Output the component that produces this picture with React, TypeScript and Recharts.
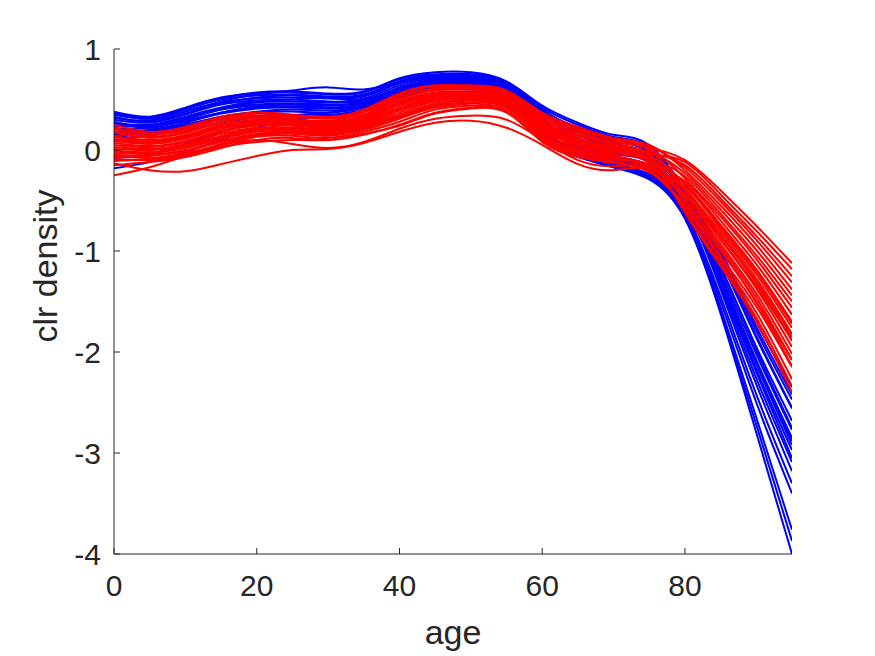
import React from 'react';
import { LineChart, Line, XAxis, YAxis } from 'recharts';

// ages at which the curves were read
const ages = [0, 5, 10, 15, 20, 25, 30, 35, 40, 45, 50, 55, 60, 65, 70, 75, 80, 85, 90, 95];

// blue curves
const blue01 = [0.38, 0.33, 0.42, 0.52, 0.56, 0.57, 0.55, 0.57, 0.70, 0.75, 0.75, 0.67, 0.42, 0.25, 0.13, 0.03, -0.40, -1.00, -1.70, -2.35];
const blue02 = [0.35, 0.31, 0.40, 0.50, 0.54, 0.55, 0.53, 0.55, 0.68, 0.74, 0.74, 0.66, 0.39, 0.22, 0.10, 0.00, -0.50, -1.38, -2.32, -3.18];
const blue03 = [0.32, 0.29, 0.38, 0.47, 0.51, 0.52, 0.51, 0.53, 0.66, 0.72, 0.72, 0.64, 0.36, 0.18, 0.06, -0.04, -0.45, -1.10, -1.86, -2.56];
const blue04 = [0.30, 0.27, 0.35, 0.45, 0.49, 0.50, 0.48, 0.51, 0.64, 0.71, 0.71, 0.63, 0.33, 0.15, 0.03, -0.07, -0.52, -1.29, -2.17, -2.97];
const blue05 = [0.27, 0.25, 0.33, 0.42, 0.48, 0.50, 0.52, 0.50, 0.62, 0.69, 0.69, 0.61, 0.30, 0.11, 0.00, -0.10, -0.50, -1.20, -2.02, -2.77];
const blue06 = [0.24, 0.24, 0.31, 0.40, 0.44, 0.45, 0.44, 0.48, 0.60, 0.68, 0.68, 0.60, 0.27, 0.08, -0.04, -0.12, -0.53, -1.25, -2.10, -2.88];
const blue07 = [0.21, 0.22, 0.29, 0.37, 0.42, 0.43, 0.42, 0.46, 0.58, 0.66, 0.66, 0.58, 0.24, 0.04, -0.07, -0.15, -0.50, -1.16, -1.95, -2.68];
const blue08 = [0.18, 0.20, 0.27, 0.37, 0.43, 0.45, 0.42, 0.44, 0.56, 0.65, 0.65, 0.57, 0.21, 0.01, -0.10, -0.18, -0.57, -1.35, -2.26, -3.09];
const blue09 = [0.16, 0.18, 0.24, 0.32, 0.37, 0.38, 0.37, 0.42, 0.54, 0.63, 0.63, 0.55, 0.18, -0.02, -0.11, -0.20, -0.48, -1.06, -1.79, -2.47];
const blue10 = [0.13, 0.16, 0.22, 0.30, 0.34, 0.35, 0.35, 0.40, 0.52, 0.62, 0.62, 0.54, 0.15, -0.05, -0.14, -0.24, -0.61, -1.45, -2.42, -3.30];
const blue11 = [0.10, 0.14, 0.20, 0.27, 0.32, 0.33, 0.33, 0.38, 0.50, 0.60, 0.60, 0.52, 0.12, -0.07, -0.17, -0.27, -0.64, -1.50, -2.50, -3.40];
const blue12 = [-0.18, -0.12, -0.02, 0.10, 0.22, 0.30, 0.34, 0.40, 0.53, 0.64, 0.66, 0.58, 0.20, 0.00, -0.10, -0.20, -0.56, -1.32, -2.20, -3.05];
const blue13 = [-0.08, -0.04, 0.06, 0.18, 0.28, 0.34, 0.37, 0.43, 0.56, 0.66, 0.67, 0.59, 0.25, 0.05, -0.06, -0.16, -0.54, -1.28, -2.12, -2.92];
const blue14 = [0.36, 0.31, 0.38, 0.48, 0.55, 0.59, 0.62, 0.60, 0.67, 0.74, 0.75, 0.66, 0.40, 0.21, 0.09, -0.01, -0.44, -1.08, -1.84, -2.55];
const blue15 = [0.28, 0.22, 0.30, 0.40, 0.45, 0.46, 0.45, 0.47, 0.60, 0.67, 0.69, 0.60, 0.26, 0.02, -0.13, -0.26, -0.64, -1.56, -2.65, -3.76];
const blue16 = [0.22, 0.19, 0.27, 0.36, 0.41, 0.42, 0.41, 0.45, 0.57, 0.65, 0.66, 0.57, 0.20, -0.03, -0.15, -0.28, -0.66, -1.60, -2.72, -3.87];
const blue17 = [0.15, 0.17, 0.25, 0.33, 0.38, 0.40, 0.39, 0.43, 0.55, 0.63, 0.64, 0.55, 0.16, -0.05, -0.17, -0.29, -0.68, -1.62, -2.80, -4.00];
const blue18 = [0.37, 0.32, 0.41, 0.51, 0.57, 0.58, 0.56, 0.58, 0.71, 0.77, 0.77, 0.68, 0.44, 0.27, 0.15, 0.05, -0.40, -1.02, -1.75, -2.42];
const blue19 = [0.33, 0.28, 0.36, 0.46, 0.52, 0.54, 0.52, 0.54, 0.67, 0.73, 0.73, 0.65, 0.37, 0.19, 0.08, -0.02, -0.47, -1.15, -1.98, -2.75];
const blue20 = [0.26, 0.23, 0.32, 0.41, 0.47, 0.48, 0.47, 0.49, 0.61, 0.70, 0.70, 0.62, 0.30, 0.12, 0.01, -0.09, -0.52, -1.24, -2.08, -2.85];

// red curves
const red01 = [0.25, 0.18, 0.23, 0.33, 0.37, 0.35, 0.33, 0.40, 0.56, 0.64, 0.64, 0.59, 0.37, 0.23, 0.12, 0.05, -0.20, -0.55, -0.94, -1.38];
const red02 = [0.21, 0.15, 0.20, 0.30, 0.34, 0.33, 0.31, 0.38, 0.53, 0.61, 0.62, 0.57, 0.34, 0.20, 0.10, 0.02, -0.10, -0.40, -0.75, -1.12];
const red03 = [0.17, 0.12, 0.17, 0.27, 0.32, 0.30, 0.28, 0.35, 0.50, 0.59, 0.60, 0.55, 0.31, 0.17, 0.07, 0.00, -0.41, -0.85, -1.32, -1.89];
const red04 = [0.13, 0.09, 0.14, 0.24, 0.29, 0.28, 0.26, 0.33, 0.47, 0.56, 0.57, 0.53, 0.28, 0.14, 0.05, -0.03, -0.15, -0.48, -0.85, -1.25];
const red05 = [0.09, 0.06, 0.11, 0.21, 0.26, 0.26, 0.24, 0.30, 0.44, 0.53, 0.55, 0.51, 0.25, 0.11, 0.02, -0.06, -0.52, -1.00, -1.51, -2.14];
const red06 = [0.05, 0.03, 0.08, 0.18, 0.24, 0.24, 0.22, 0.28, 0.41, 0.51, 0.53, 0.49, 0.23, 0.08, 0.00, -0.09, -0.26, -0.63, -1.04, -1.50];
const red07 = [0.01, 0.00, 0.05, 0.14, 0.21, 0.21, 0.19, 0.25, 0.37, 0.48, 0.51, 0.46, 0.20, 0.05, -0.03, -0.11, -0.62, -1.15, -1.70, -2.40];
const red08 = [-0.03, -0.03, 0.02, 0.11, 0.18, 0.19, 0.17, 0.23, 0.34, 0.45, 0.49, 0.44, 0.17, 0.02, -0.06, -0.14, -0.31, -0.70, -1.13, -1.63];
const red09 = [-0.07, -0.06, -0.01, 0.08, 0.15, 0.17, 0.15, 0.20, 0.31, 0.42, 0.46, 0.42, 0.14, -0.01, -0.08, -0.17, -0.46, -0.93, -1.42, -2.02];
const red10 = [-0.11, -0.09, -0.04, 0.05, 0.13, 0.14, 0.12, 0.18, 0.28, 0.40, 0.44, 0.40, 0.11, -0.04, -0.11, -0.19, -0.36, -0.78, -1.23, -1.76];
const red11 = [-0.15, -0.12, -0.07, 0.02, 0.10, 0.12, 0.10, 0.15, 0.25, 0.37, 0.42, 0.38, 0.08, -0.07, -0.13, -0.22, -0.57, -1.08, -1.61, -2.27];
const red12 = [0.10, 0.07, 0.12, 0.22, 0.27, 0.25, 0.23, 0.31, 0.45, 0.54, 0.56, 0.52, 0.27, 0.12, 0.03, -0.04, -0.12, -0.44, -0.80, -1.18];
const red13 = [0.19, 0.13, 0.18, 0.28, 0.33, 0.31, 0.29, 0.37, 0.51, 0.60, 0.61, 0.56, 0.32, 0.18, 0.08, 0.01, -0.28, -0.66, -1.08, -1.56];
const red14 = [0.07, 0.04, 0.09, 0.19, 0.25, 0.25, 0.23, 0.29, 0.42, 0.52, 0.54, 0.50, 0.24, 0.09, 0.01, -0.08, -0.38, -0.81, -1.27, -1.82];
const red15 = [0.03, 0.01, 0.06, 0.16, 0.22, 0.22, 0.20, 0.26, 0.39, 0.49, 0.52, 0.47, 0.21, 0.06, -0.02, -0.10, -0.49, -0.96, -1.46, -2.08];
const red16 = [-0.01, -0.02, 0.03, 0.12, 0.19, 0.20, 0.18, 0.24, 0.35, 0.46, 0.50, 0.45, 0.18, 0.03, -0.05, -0.13, -0.60, -1.12, -1.66, -2.34];
const red17 = [0.14, 0.10, 0.15, 0.25, 0.30, 0.29, 0.27, 0.34, 0.48, 0.57, 0.58, 0.54, 0.29, 0.15, 0.06, -0.02, -0.23, -0.59, -0.99, -1.44];
const red18 = [-0.05, -0.05, 0.00, 0.09, 0.16, 0.18, 0.16, 0.22, 0.32, 0.43, 0.47, 0.43, 0.15, 0.00, -0.07, -0.15, -0.44, -0.89, -1.37, -1.95];
const red19 = [-0.25, -0.17, -0.06, 0.03, 0.08, 0.10, 0.10, 0.16, 0.24, 0.36, 0.41, 0.37, 0.09, -0.06, -0.12, -0.20, -0.55, -1.05, -1.55, -2.15];
const red20 = [-0.13, -0.20, -0.21, -0.14, -0.06, 0.00, 0.01, 0.07, 0.18, 0.27, 0.29, 0.22, 0.05, -0.14, -0.20, -0.19, -0.45, -0.88, -1.35, -1.88];
const red21 = [-0.05, -0.08, -0.03, 0.05, 0.10, 0.06, 0.02, 0.08, 0.21, 0.31, 0.34, 0.30, 0.10, -0.10, -0.16, -0.18, -0.50, -0.98, -1.50, -2.08];
const red22 = [0.22, 0.16, 0.21, 0.31, 0.36, 0.34, 0.32, 0.39, 0.55, 0.63, 0.63, 0.58, 0.35, 0.21, 0.11, 0.03, -0.17, -0.51, -0.89, -1.31];
const red23 = [0.00, -0.04, 0.04, 0.13, 0.20, 0.22, 0.21, 0.27, 0.40, 0.50, 0.52, 0.48, 0.22, 0.07, -0.01, -0.10, -0.33, -0.74, -1.18, -1.70];
const red24 = [-0.09, -0.10, -0.05, 0.06, 0.14, 0.16, 0.14, 0.21, 0.33, 0.44, 0.47, 0.43, 0.13, -0.02, -0.09, -0.16, -0.40, -0.84, -1.30, -1.85];
const red25 = [0.11, 0.08, 0.13, 0.23, 0.28, 0.27, 0.25, 0.32, 0.46, 0.55, 0.57, 0.53, 0.26, 0.10, 0.02, -0.05, -0.34, -0.76, -1.20, -1.72];

const blueSeries = [blue01, blue02, blue03, blue04, blue05, blue06, blue07, blue08, blue09, blue10, blue11, blue12, blue13, blue14, blue15, blue16, blue17, blue18, blue19, blue20];
const redSeries = [red01, red02, red03, red04, red05, red06, red07, red08, red09, red10, red11, red12, red13, red14, red15, red16, red17, red18, red19, red20, red21, red22, red23, red24, red25];

const xTicks = [0, 20, 40, 60, 80];
const yTicks = [-4, -3, -2, -1, 0, 1];

const data = ages.map((age, i) => {
  const row: Record<string, number> = { age };
  blueSeries.forEach((s, k) => { row['b' + k] = s[i]; });
  redSeries.forEach((s, k) => { row['r' + k] = s[i]; });
  return row;
});

const AXIS_COLOR = '#262626';
const FONT = '"Liberation Sans", Arial, Helvetica, sans-serif';
const TICK_FS = 30;
const LABEL_FS = 34;

const XTick = (props: any) => {
  const { x, y, payload } = props;
  return (
    <g>
      <line x1={x} y1={y} x2={x} y2={y - 6} stroke={AXIS_COLOR} strokeWidth={1} />
      <text x={x} y={y + 42} textAnchor="middle" fill={AXIS_COLOR} fontSize={TICK_FS} fontFamily={FONT}>
        {payload.value}
      </text>
    </g>
  );
};

const YTick = (props: any) => {
  const { x, y, payload } = props;
  return (
    <g>
      <line x1={x} y1={y} x2={x + 6} y2={y} stroke={AXIS_COLOR} strokeWidth={1} />
      <text x={x - 13} y={y + 11} textAnchor="end" fill={AXIS_COLOR} fontSize={TICK_FS} fontFamily={FONT}>
        {payload.value}
      </text>
    </g>
  );
};

export default function App() {
  return (
    <div style={{ position: 'relative', width: 875, height: 656, background: '#fff' }}>
      <LineChart width={875} height={656} data={data} margin={{ top: 41, right: 91, bottom: 50, left: 46 }}>
        <XAxis
          dataKey="age"
          type="number"
          domain={[0, 95]}
          ticks={xTicks}
          height={60}
          tickSize={0}
          tickMargin={0}
          tickLine={false}
          axisLine={{ stroke: AXIS_COLOR, strokeWidth: 1 }}
          tick={XTick}
          allowDataOverflow
        />
        <YAxis
          type="number"
          domain={[-4, 1]}
          ticks={yTicks}
          width={60}
          tickSize={0}
          tickMargin={0}
          tickLine={false}
          axisLine={{ stroke: AXIS_COLOR, strokeWidth: 1 }}
          tick={YTick}
          allowDataOverflow
        />
        {blueSeries.map((_, k) => (
          <Line key={'b' + k} dataKey={'b' + k} type="natural" stroke="#0000ff" strokeWidth={2} dot={false} activeDot={false} isAnimationActive={false} />
        ))}
        {redSeries.map((_, k) => (
          <Line key={'r' + k} dataKey={'r' + k} type="natural" stroke="#ff0000" strokeWidth={2} dot={false} activeDot={false} isAnimationActive={false} />
        ))}
      </LineChart>
      <svg width={875} height={656} style={{ position: 'absolute', left: 0, top: 0, pointerEvents: 'none' }}>
        <text x={445} y={636} textAnchor="middle" fill={AXIS_COLOR} fontSize={LABEL_FS} fontFamily={FONT}>age</text>
        <text x={49} y={258} textAnchor="middle" fill={AXIS_COLOR} fontSize={LABEL_FS} fontFamily={FONT} transform="rotate(-90 49 258)">clr density</text>
      </svg>
    </div>
  );
}
